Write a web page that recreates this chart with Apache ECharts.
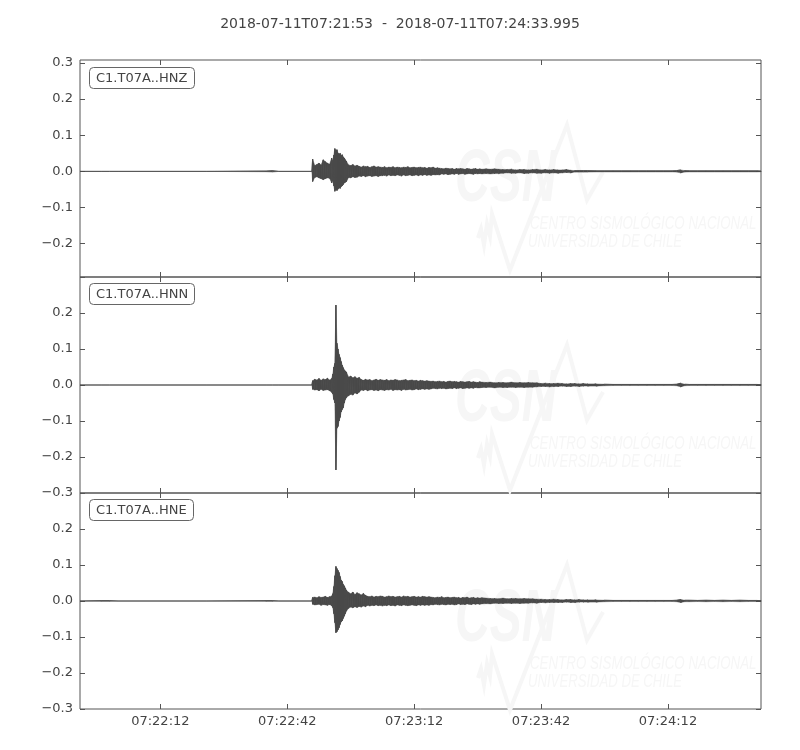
<!DOCTYPE html>
<html><head><meta charset="utf-8">
<script src="https://cdn.jsdelivr.net/npm/echarts@6/dist/echarts.min.js"></script>
<style>html,body{margin:0;padding:0;background:#fff}#c{width:800px;height:750px}</style>
</head><body><div id="c"></div><script>
// ---------- texts / ticks ----------
const titleText = '2018-07-11T07:21:53  -  2018-07-11T07:24:33.995';
const channels = ['C1.T07A..HNZ', 'C1.T07A..HNN', 'C1.T07A..HNE'];
const duration = 160.995;                       // seconds after 07:21:53
const tickSeconds = [19, 49, 79, 109, 139];
const tickLabels = ['07:22:12', '07:22:42', '07:23:12', '07:23:42', '07:24:12'];
const yRanges = [[-0.292, 0.308], [-0.3, 0.3], [-0.3, 0.3]];
const yTickValues = [-0.3, -0.2, -0.1, 0, 0.1, 0.2, 0.3];
const yLabelValues = [
  [-0.2, -0.1, 0, 0.1, 0.2, 0.3],
  [-0.3, -0.2, -0.1, 0, 0.1, 0.2],
  [-0.3, -0.2, -0.1, 0, 0.1, 0.2]
];

// ---------- sample times (s after 07:21:53) ----------
const T = [
  0, 5, 7, 9, 30, 44, 45.5, 47, 54.8,
  55, 55.5, 56, 56.5, 57, 57.5, 58, 58.5, 59, 59.5,
  59.75, 60, 60.25, 60.5, 60.75, 61, 61.25, 61.5, 61.75, 62, 62.25, 62.5, 62.75, 63,
  63.5, 64, 64.5, 65, 65.5, 66, 66.5, 67, 67.5, 68, 68.5, 69, 69.5, 70, 70.5, 71,
  71.5, 72, 72.5, 73, 73.5, 74, 74.5, 75, 75.5, 76, 76.5, 77, 77.5, 78, 78.5, 79,
  79.5, 80, 80.5, 81, 81.5, 82, 82.5, 83, 83.5, 84, 84.5, 85, 85.5, 86, 86.5, 87,
  87.5, 88, 88.5, 89, 89.5, 90, 90.5, 91, 91.5, 92, 92.5, 93, 93.5, 94, 94.5, 95,
  96, 97, 98, 99, 100, 101, 102, 103, 104, 105, 106, 107, 108, 109, 110, 111, 112,
  113, 114, 115, 116, 117, 118, 119, 120,
  122, 124, 126, 128, 130, 132, 134, 136, 138, 140, 141, 142, 143,
  144, 146, 148, 150, 152, 154, 156, 158, 160, 160.995
];

// ---------- HNZ: upper / lower envelope per sample ----------
const hnzUpper = [
  0, 0, 0, 0, 0, 0.001, 0.002, 0, 0,
  0.034, 0.016, 0.019, 0.023, 0.018, 0.032, 0.027, 0.023, 0.02, 0.037,
  0.03, 0.045, 0.063, 0.058, 0.06, 0.051, 0.048, 0.05, 0.044, 0.046, 0.04, 0.037, 0.032, 0.028,
  0.018, 0.016, 0.019, 0.015, 0.017,
  0.014, 0.012, 0.015, 0.013, 0.014, 0.011, 0.013, 0.015, 0.012, 0.013, 0.012,
  0.011, 0.013, 0.01, 0.012, 0.011, 0.013, 0.01, 0.012, 0.011, 0.01, 0.012, 0.011, 0.013, 0.01,
  0.011, 0.012, 0.01, 0.011, 0.012, 0.01, 0.011, 0.009, 0.011, 0.01, 0.012, 0.009, 0.01, 0.009,
  0.008, 0.007, 0.009, 0.008, 0.007, 0.008, 0.006, 0.008, 0.007, 0.008,
  0.007, 0.006, 0.008, 0.007, 0.006, 0.007, 0.008, 0.006, 0.007, 0.006,
  0.007, 0.006, 0.007, 0.006, 0.005, 0.005, 0.006, 0.004, 0.005, 0.005, 0.004, 0.005, 0.006,
  0.004, 0.005, 0.004, 0.005, 0.004, 0.004, 0.005, 0.003, 0.002, 0.002, 0.002, 0.002,
  0.0015, 0.0015, 0.0015, 0.0015, 0.0015, 0.0015, 0.0015, 0.0015, 0.0015, 0.0015, 0.002, 0.004, 0.002,
  0.0015, 0.0015, 0.0015, 0.0015, 0.0015, 0.0015, 0.0015, 0.0015, 0.0015, 0.001
];
const hnzLower = [
  0, 0, 0, 0, 0, -0.001, -0.002, 0, 0,
  -0.028, -0.017, -0.015, -0.018, -0.02, -0.023, -0.02, -0.018, -0.019, -0.032,
  -0.026, -0.04, -0.055, -0.05, -0.053, -0.049, -0.045, -0.047, -0.042, -0.04, -0.036, -0.032, -0.03, -0.028,
  -0.017, -0.018, -0.015, -0.017, -0.016,
  -0.013, -0.014, -0.012, -0.015, -0.013, -0.012, -0.014, -0.013, -0.012, -0.014, -0.012,
  -0.012, -0.011, -0.013, -0.01, -0.012, -0.011, -0.012, -0.01, -0.011, -0.013, -0.01, -0.012, -0.011, -0.01,
  -0.012, -0.011, -0.01, -0.012, -0.01, -0.011, -0.009, -0.011, -0.01, -0.011, -0.009, -0.01, -0.009, -0.01,
  -0.007, -0.008, -0.007, -0.009, -0.008, -0.007, -0.008, -0.006, -0.008, -0.007,
  -0.006, -0.008, -0.007, -0.006, -0.007, -0.008, -0.006, -0.007, -0.006, -0.007,
  -0.006, -0.007, -0.006, -0.006, -0.005, -0.004, -0.005, -0.005, -0.004, -0.006, -0.005, -0.004, -0.005,
  -0.005, -0.004, -0.005, -0.004, -0.005, -0.004, -0.003, -0.004, -0.002, -0.002, -0.002, -0.002,
  -0.0015, -0.0015, -0.0015, -0.0015, -0.0015, -0.0015, -0.0015, -0.0015, -0.0015, -0.0015, -0.002, -0.004, -0.002,
  -0.0015, -0.0015, -0.0015, -0.0015, -0.0015, -0.0015, -0.0015, -0.0015, -0.0015, -0.001
];

// ---------- HNN ----------
const hnnUpper = [
  0, 0, 0, 0, 0, 0, 0, 0, 0,
  0.012, 0.016, 0.014, 0.018, 0.013, 0.017, 0.015, 0.019, 0.014, 0.018,
  0.03, 0.05, 0.06, 0.222, 0.116, 0.1, 0.085, 0.076, 0.065, 0.055, 0.048, 0.042, 0.039, 0.036,
  0.022, 0.025, 0.02, 0.023, 0.019, 0.021,
  0.015, 0.013, 0.016, 0.014, 0.015, 0.012, 0.014, 0.016, 0.013, 0.015, 0.014, 0.013, 0.015, 0.012, 0.014, 0.013,
  0.015, 0.014, 0.012, 0.013, 0.014, 0.015, 0.012, 0.013, 0.014, 0.012, 0.013, 0.011, 0.013, 0.012, 0.011, 0.012, 0.011,
  0.01, 0.011, 0.009, 0.01, 0.011, 0.009, 0.01, 0.008, 0.01, 0.011, 0.009, 0.01, 0.009,
  0.008, 0.01, 0.009, 0.008, 0.009, 0.01, 0.008, 0.009, 0.008, 0.007, 0.009, 0.008,
  0.007, 0.008, 0.006, 0.007, 0.007, 0.006, 0.008, 0.006, 0.007, 0.006, 0.007, 0.006, 0.006,
  0.004, 0.005, 0.004, 0.004, 0.005, 0.004, 0.003, 0.004, 0.004, 0.003, 0.004, 0.003,
  0.003, 0.002, 0.0015, 0.0015, 0.0015, 0.0015, 0.0015, 0.0015, 0.0015, 0.0015, 0.002, 0.005, 0.002,
  0.0015, 0.0015, 0.0015, 0.0015, 0.0015, 0.0015, 0.0015, 0.0015, 0.0015, 0.001
];
const hnnLower = [
  0, 0, 0, 0, 0, 0, 0, 0, 0,
  -0.012, -0.014, -0.013, -0.016, -0.012, -0.015, -0.014, -0.013, -0.016, -0.02,
  -0.025, -0.04, -0.05, -0.236, -0.12, -0.115, -0.1, -0.09, -0.075, -0.068, -0.063, -0.05, -0.04, -0.035,
  -0.03, -0.026, -0.028, -0.022, -0.025, -0.02,
  -0.014, -0.015, -0.013, -0.016, -0.014, -0.013, -0.015, -0.014, -0.016, -0.013, -0.014, -0.015, -0.013, -0.014, -0.012, -0.015,
  -0.013, -0.014, -0.013, -0.015, -0.012, -0.014, -0.013, -0.012, -0.014, -0.013, -0.011, -0.013, -0.012, -0.011, -0.012, -0.011, -0.012,
  -0.011, -0.009, -0.01, -0.011, -0.009, -0.01, -0.009, -0.011, -0.01, -0.009, -0.01, -0.008, -0.01,
  -0.009, -0.008, -0.01, -0.009, -0.008, -0.009, -0.008, -0.009, -0.007, -0.008, -0.008, -0.007,
  -0.007, -0.006, -0.008, -0.006, -0.007, -0.007, -0.006, -0.007, -0.006, -0.007, -0.006, -0.006, -0.005,
  -0.004, -0.004, -0.005, -0.004, -0.004, -0.003, -0.004, -0.004, -0.003, -0.004, -0.003, -0.003,
  -0.003, -0.002, -0.0015, -0.0015, -0.0015, -0.0015, -0.0015, -0.0015, -0.0015, -0.0015, -0.002, -0.005, -0.002,
  -0.0015, -0.0015, -0.0015, -0.0015, -0.0015, -0.0015, -0.0015, -0.0015, -0.0015, -0.001
];

// ---------- HNE ----------
const hneUpper = [
  0, 0.001, 0.001, 0, 0, 0.001, 0.001, 0, 0,
  0.01, 0.011, 0.009, 0.012, 0.01, 0.011, 0.013, 0.01, 0.012, 0.014,
  0.02, 0.04, 0.07, 0.096, 0.09, 0.085, 0.079, 0.068, 0.058, 0.054, 0.046, 0.042, 0.036, 0.03,
  0.024, 0.02, 0.025, 0.018, 0.023, 0.02, 0.017, 0.021, 0.016,
  0.013, 0.012, 0.014, 0.011, 0.013, 0.012, 0.014, 0.013, 0.011, 0.012, 0.014, 0.012, 0.013, 0.011, 0.012,
  0.013, 0.011, 0.014, 0.012, 0.013, 0.011, 0.012, 0.013, 0.011, 0.012, 0.011, 0.013, 0.012, 0.011, 0.012,
  0.011, 0.01, 0.009, 0.011, 0.01, 0.012, 0.009, 0.01, 0.011, 0.009, 0.01, 0.011, 0.009,
  0.01, 0.008, 0.01, 0.009, 0.011, 0.008, 0.009, 0.01, 0.008, 0.009, 0.008, 0.009,
  0.008, 0.007, 0.007, 0.006, 0.008, 0.006, 0.007, 0.007, 0.006, 0.007, 0.006, 0.006, 0.005,
  0.005, 0.004, 0.004, 0.005, 0.004, 0.003, 0.004, 0.004, 0.003, 0.004, 0.003, 0.003,
  0.003, 0.002, 0.0015, 0.0015, 0.0015, 0.0015, 0.0015, 0.0015, 0.0015, 0.0015, 0.002, 0.004, 0.002,
  0.002, 0.0015, 0.002, 0.0015, 0.002, 0.0015, 0.002, 0.0015, 0.0015, 0.001
];
const hneLower = [
  0, -0.001, -0.001, 0, 0, -0.001, -0.001, 0, 0,
  -0.009, -0.011, -0.01, -0.009, -0.012, -0.01, -0.011, -0.012, -0.01, -0.013,
  -0.018, -0.035, -0.06, -0.088, -0.085, -0.08, -0.074, -0.065, -0.058, -0.055, -0.048, -0.042, -0.035, -0.028,
  -0.02, -0.017, -0.019, -0.016, -0.018, -0.015, -0.017, -0.014, -0.016,
  -0.012, -0.014, -0.012, -0.013, -0.011, -0.013, -0.012, -0.014, -0.012, -0.013, -0.011, -0.013, -0.012, -0.014, -0.011,
  -0.012, -0.013, -0.011, -0.012, -0.013, -0.012, -0.011, -0.012, -0.013, -0.011, -0.012, -0.011, -0.012, -0.011, -0.012,
  -0.01, -0.011, -0.009, -0.01, -0.011, -0.009, -0.01, -0.011, -0.009, -0.01, -0.009, -0.011, -0.01,
  -0.008, -0.01, -0.009, -0.01, -0.008, -0.009, -0.01, -0.008, -0.009, -0.008, -0.009, -0.008,
  -0.007, -0.008, -0.006, -0.007, -0.007, -0.006, -0.007, -0.006, -0.007, -0.006, -0.006, -0.005, -0.006,
  -0.004, -0.005, -0.004, -0.004, -0.004, -0.004, -0.003, -0.004, -0.004, -0.003, -0.003, -0.003,
  -0.003, -0.002, -0.0015, -0.0015, -0.0015, -0.0015, -0.0015, -0.0015, -0.0015, -0.0015, -0.002, -0.004, -0.002,
  -0.002, -0.0015, -0.002, -0.0015, -0.002, -0.0015, -0.002, -0.0015, -0.0015, -0.001
];

const uppers = [hnzUpper, hnnUpper, hneUpper];
const lowers = [hnzLower, hnnLower, hneLower];

// ---------- layout ----------
const FONT = 'DejaVu Sans';
const TXT = '#444';
const AX = '#555';
const WAVE = '#4a4a4a';
const gridTops = [60, 277, 493];
const gridHeights = [217, 216, 216];
const PLOT_LEFT = 80, PLOT_W = 681;

function traceData(U, L) {
  const d = [];
  for (let i = 0; i < T.length; i++) {
    const u = U[i] ?? 0, l = L[i] ?? 0;
    d.push([T[i], u]);
    if (l !== u) d.push([T[i], l]);
  }
  return d;
}
function bandData(U, L) {
  const d = [];
  for (let i = 0; i < T.length - 1; i++) {
    d.push([T[i], U[i] ?? 0, L[i] ?? 0, T[i + 1], U[i + 1] ?? 0, L[i + 1] ?? 0]);
  }
  return d;
}
function renderBand(params, api) {
  const a = api.coord([api.value(0), api.value(1)]);
  const b = api.coord([api.value(3), api.value(4)]);
  const c = api.coord([api.value(3), api.value(5)]);
  const d = api.coord([api.value(0), api.value(2)]);
  return { type: 'polygon', shape: { points: [a, b, c, d] },
    style: { fill: WAVE, stroke: WAVE, lineWidth: 0.4 } };
}
const fmtY = v => v.toFixed(1).replace('-', '\u2212');
const fmtX = v => {
  const k = tickSeconds.findIndex(s => Math.abs(s - v) < 1e-6);
  return k >= 0 ? tickLabels[k] : '';
};

const grids = [], xAxes = [], yAxes = [], series = [], titles = [];
titles.push({
  text: titleText, left: 'center', top: 12,
  textStyle: { fontFamily: FONT, fontSize: 14, fontWeight: 'normal', color: TXT }
});
for (let i = 0; i < 3; i++) {
  grids.push({ left: PLOT_LEFT, width: PLOT_W, top: gridTops[i], height: gridHeights[i],
    show: true, borderColor: AX, borderWidth: 1, backgroundColor: 'transparent' });
  const [ymin, ymax] = yRanges[i];
  const yt = yTickValues.filter(v => v >= ymin - 1e-9 && v <= ymax + 1e-9);
  ['bottom', 'top'].forEach(pos => {
    xAxes.push({
      gridIndex: i, type: 'value', min: 0, max: duration, position: pos,
      axisLine: { show: false, onZero: false }, splitLine: { show: false },
      axisTick: { show: true, inside: true, length: 5, customValues: tickSeconds,
        lineStyle: { color: AX, width: 1 } },
      axisLabel: { show: pos === 'bottom' && i === 2, customValues: tickSeconds, formatter: fmtX,
        margin: 6, color: TXT, fontSize: 13, fontFamily: FONT }
    });
  });
  ['left', 'right'].forEach(pos => {
    yAxes.push({
      gridIndex: i, type: 'value', min: ymin, max: ymax, position: pos,
      axisLine: { show: false, onZero: false }, splitLine: { show: false },
      axisTick: { show: true, inside: true, length: 5, customValues: yt,
        lineStyle: { color: AX, width: 1 } },
      axisLabel: { show: pos === 'left', customValues: yLabelValues[i], formatter: fmtY,
        margin: 7, color: TXT, fontSize: 13, fontFamily: FONT }
    });
  });
  series.push({
    type: 'custom', coordinateSystem: 'cartesian2d', xAxisIndex: 2 * i, yAxisIndex: 2 * i,
    data: bandData(uppers[i], lowers[i]), renderItem: renderBand,
    encode: { x: [0, 3], y: [1, 2, 4, 5] }, clip: true, silent: true, animation: false, z: 3
  });
  series.push({
    type: 'line', xAxisIndex: 2 * i, yAxisIndex: 2 * i,
    data: traceData(uppers[i], lowers[i]),
    showSymbol: false, symbol: 'none', animation: false, silent: true, clip: true,
    lineStyle: { color: WAVE, width: 0.9, join: 'bevel' }, z: 4
  });
  titles.push({
    text: channels[i], left: 89, top: gridTops[i] + (i === 0 ? 7 : 6),
    padding: [4, 7, 3, 7], borderColor: '#666', borderWidth: 1, borderRadius: 4,
    backgroundColor: '#fff',
    textStyle: { fontFamily: FONT, fontSize: 13, fontWeight: 'normal', color: TXT, lineHeight: 15 }
  });
}

// ---------- faint CSN watermark in each panel ----------
const WM = '#f6f6f6';
const wmOffsets = [0, 220, 440];
const graphics = [];
wmOffsets.forEach(dy => {
  graphics.push({
    type: 'polyline', silent: true, z: 1,
    shape: { points: [[478, 238 + dy], [481, 229 + dy], [484, 245 + dy], [487, 224 + dy], [490, 236 + dy],
      [492, 214 + dy], [510, 270 + dy], [567, 125 + dy], [587, 200 + dy], [603, 172 + dy]] },
    style: { stroke: WM, lineWidth: 4, fill: null, lineJoin: 'miter' }
  });
  graphics.push({
    type: 'text', silent: true, z: 1, x: 455, y: 180 + dy, scaleX: 0.64,
    style: { text: 'CSN', font: 'italic bold 75px "Liberation Sans"', fill: WM, verticalAlign: 'middle' }
  });
  graphics.push({
    type: 'text', silent: true, z: 1, x: 530, y: 223.5 + dy, scaleX: 0.72,
    style: { text: 'CENTRO SISMOLÓGICO NACIONAL', font: 'italic 18.5px "Liberation Sans"', fill: WM, verticalAlign: 'middle' }
  });
  graphics.push({
    type: 'text', silent: true, z: 1, x: 528, y: 241.5 + dy, scaleX: 0.71,
    style: { text: 'UNIVERSIDAD DE CHILE', font: 'italic 18.5px "Liberation Sans"', fill: WM, verticalAlign: 'middle' }
  });
});

const chart = echarts.init(document.getElementById('c'), null, { renderer: 'canvas' });
chart.setOption({
  animation: false,
  backgroundColor: '#fff',
  title: titles,
  grid: grids,
  xAxis: xAxes,
  yAxis: yAxes,
  series: series,
  graphic: { elements: graphics }
});
</script></body></html>
